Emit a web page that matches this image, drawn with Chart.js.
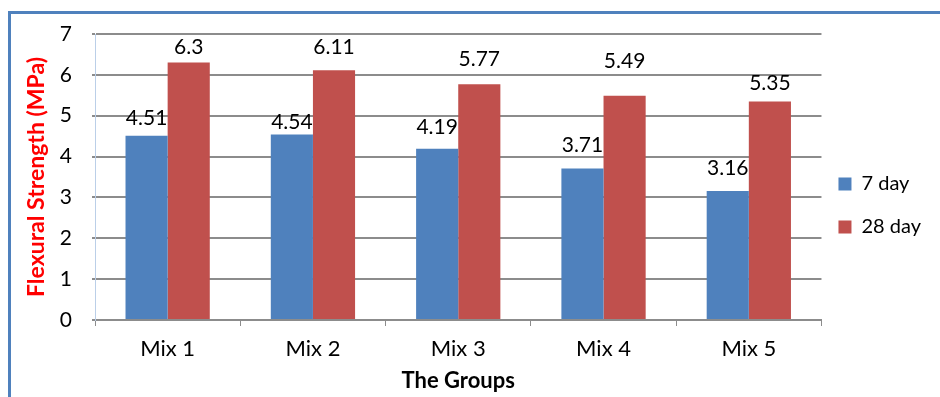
<!DOCTYPE html>
<html>
<head>
<meta charset="utf-8">
<script src="https://cdn.jsdelivr.net/npm/chart.js@4.4.1/dist/chart.umd.min.js"></script>
<style>
  html, body { margin: 0; padding: 0; background: #ffffff; }
  #wrap { width: 940px; height: 397px; }
</style>
</head>
<body>
<div id="wrap"><canvas id="chart" width="940" height="397"></canvas></div>
<script>
// Flexural strength of the five mixes at 7 and 28 days
const groups = ['Mix 1', 'Mix 2', 'Mix 3', 'Mix 4', 'Mix 5'];
const day7 = [4.51, 4.54, 4.19, 3.71, 3.16];
const day28 = [6.3, 6.11, 5.77, 5.49, 5.35];
const seriesNames = ['7 day', '28 day'];
const yTicks = [0, 1, 2, 3, 4, 5, 6, 7];

const FONT = 'Lato, "Open Sans", sans-serif';

// Blue frame around the chart
const framePlugin = {
  id: 'frame',
  beforeDraw(chart) {
    const ctx = chart.ctx;
    ctx.save();
    ctx.fillStyle = '#ffffff';
    ctx.fillRect(0, 0, chart.width, chart.height);
    ctx.strokeStyle = '#4F81BD';
    ctx.lineWidth = 3;
    ctx.beginPath();
    ctx.moveTo(chart.width + 2, 12.5);
    ctx.lineTo(9.5, 12.5);
    ctx.lineTo(9.5, chart.height + 2);
    ctx.stroke();
    ctx.restore();
  }
};

// Nudge the legend block up and to the left
const legendNudge = {
  id: 'legendNudge',
  afterLayout(chart, args, opts) {
    const lg = chart.legend;
    if (!lg) return;
    lg.top += opts.dy; lg.bottom += opts.dy;
    lg.left += opts.dx; lg.right += opts.dx;
  }
};

// Value labels above each bar
const valueLabels = {
  id: 'valueLabels',
  afterDatasetsDraw(chart, args, opts) {
    const ctx = chart.ctx;
    ctx.save();
    ctx.font = opts.font;
    ctx.fillStyle = opts.color;
    ctx.textAlign = 'center';
    ctx.textBaseline = 'middle';
    chart.data.datasets.forEach((ds, di) => {
      const meta = chart.getDatasetMeta(di);
      meta.data.forEach((bar, i) => {
        const lift = opts.lift[di][i];
        ctx.fillText(String(ds.data[i]), bar.x, bar.y - lift);
      });
    });
    ctx.restore();
  }
};

new Chart(document.getElementById('chart'), {
  type: 'bar',
  data: {
    labels: groups,
    datasets: [
      { label: seriesNames[0], data: day7, backgroundColor: '#4F81BD' },
      { label: seriesNames[1], data: day28, backgroundColor: '#C0504D' }
    ]
  },
  plugins: [framePlugin, legendNudge, valueLabels],
  options: {
    responsive: false,
    animation: false,
    devicePixelRatio: 1,
    layout: { padding: { left: 0, top: 34, right: 3, bottom: 0 } },
    datasets: { bar: { barPercentage: 1.0, categoryPercentage: 0.58 } },
    scales: {
      x: {
        grid: {
          display: true,
          drawOnChartArea: false,
          drawTicks: true,
          tickLength: 6,
          tickColor: '#8c8c8c',
          offset: true
        },
        border: { display: true, color: '#8c8c8c', width: 2 },
        ticks: { color: '#000', font: { family: FONT, size: 22 }, padding: 10 },
        title: {
          display: true,
          text: 'The Groups',
          color: '#000',
          font: { family: FONT, size: 22, weight: 'bold' },
          padding: { top: 0, bottom: 3 }
        },
        afterFit(s) { s.height = 77; }
      },
      y: {
        min: 0,
        max: 7,
        afterBuildTicks(s) { s.ticks = yTicks.map(v => ({ value: v })); },
        grid: {
          color: '#8c8c8c',
          lineWidth: 2,
          drawTicks: true,
          tickLength: 3,
          tickColor: '#8c8c8c'
        },
        border: { display: true, color: '#BBCFE8', width: 1 },
        ticks: { color: '#000', font: { family: FONT, size: 21 }, padding: 20 },
        title: {
          display: true,
          text: 'Flexural Strength (MPa)',
          color: '#FF0000',
          font: { family: FONT, size: 23, weight: 'bold' },
          padding: { top: 23, bottom: 0 }
        },
        afterFit(s) { s.width = 95; }
      }
    },
    plugins: {
      legend: {
        position: 'right',
        labels: {
          boxWidth: 13,
          boxHeight: 13,
          padding: 23,
          color: '#000',
          font: { family: FONT, size: 20 }
        }
      },
      legendNudge: { dx: -6, dy: -10 },
      tooltip: { enabled: false },
      valueLabels: {
        font: '21px ' + FONT,
        color: '#000',
        lift: [
          [17, 12, 22, 23, 23],
          [15, 23, 25, 34, 18]
        ]
      }
    }
  }
});
</script>
</body>
</html>
